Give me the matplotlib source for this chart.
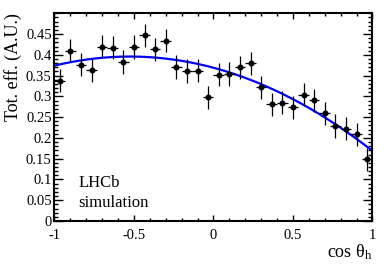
import numpy as np
import matplotlib
matplotlib.use("Agg")
import matplotlib.pyplot as plt
from matplotlib.ticker import MultipleLocator

plt.rcParams['font.family'] = ['Liberation Serif', 'DejaVu Serif']
plt.rcParams['mathtext.fontset'] = 'custom'
plt.rcParams['mathtext.rm'] = 'Liberation Serif'
plt.rcParams['mathtext.it'] = 'Liberation Serif'

# binned efficiency, 30 bins in cos(theta_h)
bin_edges = np.linspace(-1, 1, 31)
eff = [0.338, 0.410, 0.376, 0.363, 0.420, 0.417, 0.383, 0.419, 0.447, 0.413,
       0.434, 0.371, 0.361, 0.362, 0.298, 0.352, 0.354, 0.370, 0.380, 0.322,
       0.281, 0.285, 0.274, 0.304, 0.291, 0.259, 0.229, 0.222, 0.209, 0.149]
eff_err = [0.028] * 30

# second order polynomial fit: p0 + p1*x + p2*x^2
fit_pars = [0.369, -0.1025, -0.0975]

centers = 0.5 * (bin_edges[1:] + bin_edges[:-1])
half_w = 0.5 * np.diff(bin_edges)

fig = plt.figure(figsize=(3.92, 2.66), dpi=100)
ax = fig.add_axes([0.139, 0.169, 0.811, 0.781])

xf = np.linspace(-1, 1, 300)
ax.plot(xf, np.polyval(fit_pars[::-1], xf), color='#0000ff', lw=1.6, zorder=2)
ax.errorbar(centers, eff, xerr=half_w, yerr=eff_err, fmt='o', color='black',
            ms=3.3, elinewidth=0.9, capsize=0, zorder=3)

ax.set_xlim(-1, 1)
ax.set_ylim(0, 0.5)
ax.xaxis.set_major_locator(MultipleLocator(0.5))
ax.xaxis.set_minor_locator(MultipleLocator(0.1))
ax.yaxis.set_major_locator(MultipleLocator(0.05))
ax.yaxis.set_minor_locator(MultipleLocator(0.01))
ax.set_yticks(np.arange(0, 0.46, 0.05))
ax.set_yticklabels(['0', '0.05', '0.1', '0.15', '0.2', '0.25', '0.3', '0.35', '0.4', '0.45'])
ax.set_xticks([-1, -0.5, 0, 0.5, 1])
ax.set_xticklabels(['-1', '-0.5', '0', '0.5', '1'])

ax.tick_params(which='both', direction='in', top=True, right=True, labelsize=10.5, width=1.0)
ax.tick_params(axis='y', which='major', length=6.5, pad=2)
ax.tick_params(axis='y', which='minor', length=3.2)
ax.tick_params(axis='x', which='major', length=4, pad=6)
ax.tick_params(axis='x', which='minor', length=2)
for s in ax.spines.values():
    s.set_linewidth(1.5)

ax.set_ylabel('Tot. eff. (A.U.)', fontsize=13, loc='top', labelpad=3)
ax.set_xlabel(r'cos $\theta_{\mathrm{h}}$', fontsize=13, loc='right', labelpad=0)

ax.text(0.075, 0.162, 'LHCb', transform=ax.transAxes, fontsize=12, va='baseline')
ax.text(0.075, 0.066, 'simulation', transform=ax.transAxes, fontsize=12, va='baseline')

fig.savefig('out.png', dpi=100)
